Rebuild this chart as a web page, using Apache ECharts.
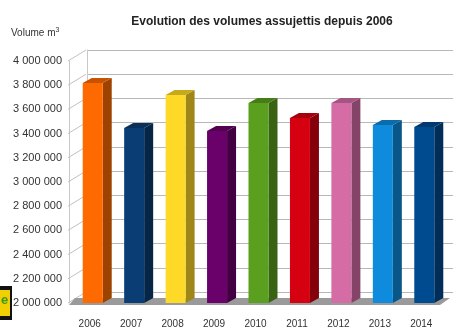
<!DOCTYPE html>
<html>
<head>
<meta charset="utf-8">
<script src="https://cdn.jsdelivr.net/npm/echarts@6/dist/echarts.min.js"></script>
<style>
html, body { margin: 0; padding: 0; background: #fff; }
#chart { width: 453px; height: 329px; }
</style>
</head>
<body>
<div id="chart"></div>
<script>
var years = ['2006', '2007', '2008', '2009', '2010', '2011', '2012', '2013', '2014'];
var volumes = [3818000, 3446000, 3719000, 3421000, 3653000, 3529000, 3653000, 3471000, 3455000];
var barColors = ['#ff6a00', '#0a3d73', '#ffd927', '#6a006a', '#5aa01e', '#d50010', '#d56ca6', '#0e8bdd', '#004a8f'];
var yMin = 2000000, yMax = 4000000, yStep = 200000;
var yTicks = [];
for (var t = yMin; t <= yMax; t += yStep) yTicks.push(t);

// wall depth and bar depth (pixels)
var wallDx = 18, wallDy = -11;
var barDx = 9, barDy = -5;

function shade(hex, k) {
    var n = parseInt(hex.slice(1), 16);
    var r = Math.round(((n >> 16) & 255) * k);
    var g = Math.round(((n >> 8) & 255) * k);
    var b = Math.round((n & 255) * k);
    return 'rgb(' + r + ',' + g + ',' + b + ')';
}

function fmt(v) {
    return String(v).replace(/\B(?=(\d{3})+(?!\d))/g, ' ');
}

var chart = echarts.init(document.getElementById('chart'));

var option = {
    animation: false,
    textStyle: { fontFamily: 'Liberation Sans, Arial, sans-serif' },
    title: {
        text: 'Evolution des volumes assujettis depuis 2006',
        left: 257,
        textAlign: 'center',
        top: 11,
        textStyle: { fontSize: 12, fontWeight: 'bold', color: '#222' }
    },
    graphic: [
        {
            type: 'text', left: 11, top: 27,
            style: {
                text: 'Volume m{sup|3}', fontSize: 10, fill: '#333', fontFamily: 'Liberation Sans',
                rich: { sup: { fontSize: 7, verticalAlign: 'top', padding: [0, 0, 5, 0], fill: '#333' } }
            }
        },
        { type: 'rect', shape: { x: 0, y: 286, width: 12, height: 34 }, style: { fill: '#111' } },
        { type: 'rect', shape: { x: 0, y: 290, width: 10, height: 26 }, style: { fill: '#f0d000' } },
        { type: 'text', left: 1, top: 294, style: { text: 'e', fontSize: 13, fill: '#3a9a20', fontWeight: 'bold' } }
    ],
    grid: [
        { left: 69, right: 11, top: 61, bottom: 26 },
        { left: 87, right: -20, top: 50, bottom: 37 }
    ],
    xAxis: [
        {
            type: 'category', gridIndex: 0, data: years,
            axisLine: { show: false }, axisTick: { show: false },
            axisLabel: { margin: 16, fontSize: 10, color: '#333' }
        },
        {
            type: 'category', gridIndex: 1, data: years, show: false
        }
    ],
    yAxis: [
        {
            type: 'value', gridIndex: 0, min: yMin, max: yMax, interval: yStep,
            splitLine: { show: false },
            axisLine: { show: true, lineStyle: { color: '#c8c8c8' } },
            axisTick: { show: false },
            axisLabel: { margin: 7, fontSize: 11, color: '#333', formatter: fmt }
        },
        {
            type: 'value', gridIndex: 1, min: yMin, max: yMax, interval: yStep,
            splitLine: { show: true, lineStyle: { color: '#b8b8b8', width: 1 } },
            axisLine: { show: true, lineStyle: { color: '#c8c8c8' } },
            axisTick: { show: false },
            axisLabel: { show: false }
        }
    ],
    series: [
        {
            // left wall diagonals
            type: 'custom', xAxisIndex: 0, yAxisIndex: 0, silent: true, z: 1,
            data: yTicks.map(function (v) { return [0, v]; }),
            renderItem: function (params, api) {
                var y = api.coord([0, api.value(1)])[1];
                var x0 = params.coordSys.x - 1;
                return {
                    type: 'line',
                    shape: { x1: x0, y1: y, x2: x0 + wallDx, y2: y + wallDy },
                    style: { stroke: '#c0c0c0', lineWidth: 1 }
                };
            }
        },
        {
            // floor
            type: 'custom', xAxisIndex: 0, yAxisIndex: 0, silent: true, z: 2,
            data: [[0, yMin]],
            renderItem: function (params, api) {
                var cs = params.coordSys;
                var yb = api.coord([0, yMin])[1];
                var xl = cs.x, xr = cs.x + cs.width;
                return {
                    type: 'polygon',
                    shape: { points: [[xl, yb + 2], [xl + 6, yb - 5], [xr + 8, yb - 5], [xr - 2, yb + 2]] },
                    style: { fill: '#9a9a9a' }
                };
            }
        },
        {
            // 3D bars
            type: 'custom', xAxisIndex: 0, yAxisIndex: 0, z: 3,
            data: volumes.map(function (v, i) { return [i, v]; }),
            renderItem: function (params, api) {
                var i = api.value(0);
                var top = api.coord([i, api.value(1)]);
                var base = api.coord([i, yMin]);
                var w = 20;
                var xl = top[0] - w / 2 + 3, xr = xl + w;
                var yt = top[1], yb = base[1];
                var c = barColors[i];
                return {
                    type: 'group',
                    children: [
                        {
                            type: 'polygon',
                            shape: { points: [[xr, yt], [xr + barDx, yt + barDy], [xr + barDx, yb + barDy], [xr, yb]] },
                            style: { fill: shade(c, 0.62) }
                        },
                        {
                            type: 'polygon',
                            shape: { points: [[xl, yt], [xl + barDx, yt + barDy], [xr + barDx, yt + barDy], [xr, yt]] },
                            style: { fill: shade(c, 0.78) }
                        },
                        {
                            type: 'rect',
                            shape: { x: xl, y: yt, width: w, height: yb - yt },
                            style: { fill: c }
                        }
                    ]
                };
            }
        }
    ]
};

chart.setOption(option);
</script>
</body>
</html>
